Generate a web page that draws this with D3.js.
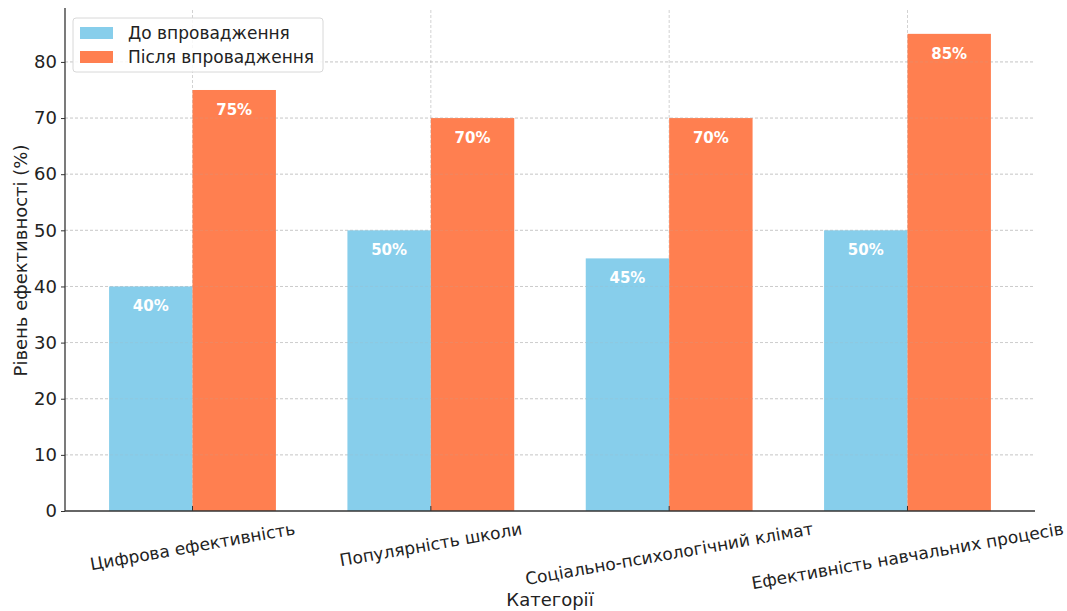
<!DOCTYPE html>
<html>
<head>
<meta charset="utf-8">
<script src="https://cdn.jsdelivr.net/npm/d3@7"></script>
<style>
  html, body { margin: 0; padding: 0; background: #fff; }
  svg text { font-family: "DejaVu Sans", sans-serif; }
</style>
</head>
<body>
<svg id="chart" width="1067" height="611"></svg>
<script>
// Categories and values (percent)
const categories = [
  "Цифрова ефективність",
  "Популярність школи",
  "Соціально-психологічний клімат",
  "Ефективність навчальних процесів"
];
const before = [40, 50, 45, 50];
const after = [75, 70, 70, 85];
const seriesNames = ["До впровадження", "Після впровадження"];
const seriesColors = ["#87ceeb", "#ff7f50"];
const yTicks = [0, 10, 20, 30, 40, 50, 60, 70, 80];

(function () {
const svg = d3.select("#chart");
const mLeft = 65, mRight = 1035, mTop = 10, mBottom = 511;
const barW = 0.35;

// Numeric x positions, one unit per category, with padding around the bars
const x = d3.scaleLinear()
  .domain([-0.535, categories.length - 1 + 0.535])
  .range([mLeft, mRight]);
const y = d3.scaleLinear()
  .domain([0, 89.25])
  .range([mBottom, mTop]);

// Grid (dashed, both directions)
const gridG = svg.append("g");
gridG.selectAll("line.h").data(yTicks.filter(d => d > 0)).join("line")
  .attr("x1", mLeft).attr("x2", mRight)
  .attr("y1", d => y(d)).attr("y2", d => y(d))
  .attr("stroke", "#b0b0b0").attr("stroke-width", 0.8)
  .attr("stroke-dasharray", "3,2").attr("opacity", 0.7);
gridG.selectAll("line.v").data(categories.map((c, i) => i)).join("line")
  .attr("x1", d => x(d)).attr("x2", d => x(d))
  .attr("y1", mTop).attr("y2", mBottom)
  .attr("stroke", "#b0b0b0").attr("stroke-width", 0.8)
  .attr("stroke-dasharray", "3,2").attr("opacity", 0.7);

// Bars with value labels
const series = [before, after];
series.forEach((vals, s) => {
  const off = s === 0 ? -barW : 0;
  svg.append("g").selectAll("rect").data(vals).join("rect")
    .attr("x", (d, i) => x(i + off))
    .attr("width", x(barW) - x(0))
    .attr("y", d => y(d))
    .attr("height", d => y(0) - y(d))
    .attr("fill", seriesColors[s]);
  svg.append("g").selectAll("text").data(vals).join("text")
    .attr("x", (d, i) => x(i + off + barW / 2))
    .attr("y", d => y(d) + 25)
    .attr("text-anchor", "middle")
    .attr("fill", "#fff")
    .attr("font-weight", "bold")
    .attr("font-size", 15)
    .text(d => d + "%");
});

// Faint grid over bars
const gridTop = svg.append("g").attr("opacity", 0.25);
gridTop.selectAll("line").data(yTicks.filter(d => d > 0)).join("line")
  .attr("x1", mLeft).attr("x2", mRight)
  .attr("y1", d => y(d)).attr("y2", d => y(d))
  .attr("stroke", "#b0b0b0").attr("stroke-width", 0.8)
  .attr("stroke-dasharray", "3,2");

// Y axis
const yAxis = svg.append("g").attr("transform", `translate(${mLeft},0)`)
  .call(d3.axisLeft(y).tickValues(yTicks).tickSize(4).tickPadding(4));
yAxis.select(".domain").remove();
yAxis.selectAll(".tick line").attr("stroke", "#333");
yAxis.selectAll(".tick text").attr("font-size", 18).attr("fill", "#222");
svg.append("line").attr("x1", mLeft).attr("x2", mLeft).attr("y1", mTop - 2).attr("y2", mBottom)
  .attr("stroke", "#333").attr("stroke-width", 1.3);

// X axis
svg.append("line").attr("x1", mLeft).attr("x2", mRight).attr("y1", mBottom).attr("y2", mBottom)
  .attr("stroke", "#333").attr("stroke-width", 1.3);
svg.append("g").selectAll("line").data(categories.map((c, i) => i)).join("line")
  .attr("x1", d => x(d)).attr("x2", d => x(d))
  .attr("y1", mBottom - 5).attr("y2", mBottom)
  .attr("stroke", "#333");

// Rotated category labels, centred under each group
const angle = -10, rad = Math.abs(angle) * Math.PI / 180;
const labG = svg.append("g");
categories.forEach((c, i) => {
  const t = labG.append("text")
    .attr("text-anchor", "middle")
    .attr("dominant-baseline", "central")
    .attr("font-size", 17)
    .attr("fill", "#222")
    .text(c);
  const w = t.node().getComputedTextLength();
  const h = 19;
  const cy = 519 + (w * Math.sin(rad) + h * Math.cos(rad)) / 2;
  t.attr("transform", `translate(${x(i)},${cy}) rotate(${angle})`);
});

// Axis titles
svg.append("text")
  .attr("x", (mLeft + mRight) / 2).attr("y", 606)
  .attr("text-anchor", "middle").attr("font-size", 18).attr("fill", "#222")
  .text("Категорії");
svg.append("text")
  .attr("transform", `translate(27,${(mTop + mBottom) / 2}) rotate(-90)`)
  .attr("text-anchor", "middle").attr("font-size", 18).attr("fill", "#222")
  .text("Рівень ефективності (%)");

// Legend
const lg = svg.append("g").attr("transform", "translate(73,18)");
lg.append("rect").attr("width", 250).attr("height", 54).attr("rx", 3)
  .attr("fill", "#fff").attr("fill-opacity", 0.85)
  .attr("stroke", "#d8d8d8");
seriesNames.forEach((n, i) => {
  lg.append("rect").attr("x", 7).attr("y", 9 + i * 24).attr("width", 33).attr("height", 12)
    .attr("fill", seriesColors[i]);
  lg.append("text").attr("x", 55).attr("y", 15 + i * 24)
    .attr("dominant-baseline", "central")
    .attr("font-size", 17).attr("fill", "#222").text(n);
});
})();
</script>
</body>
</html>
